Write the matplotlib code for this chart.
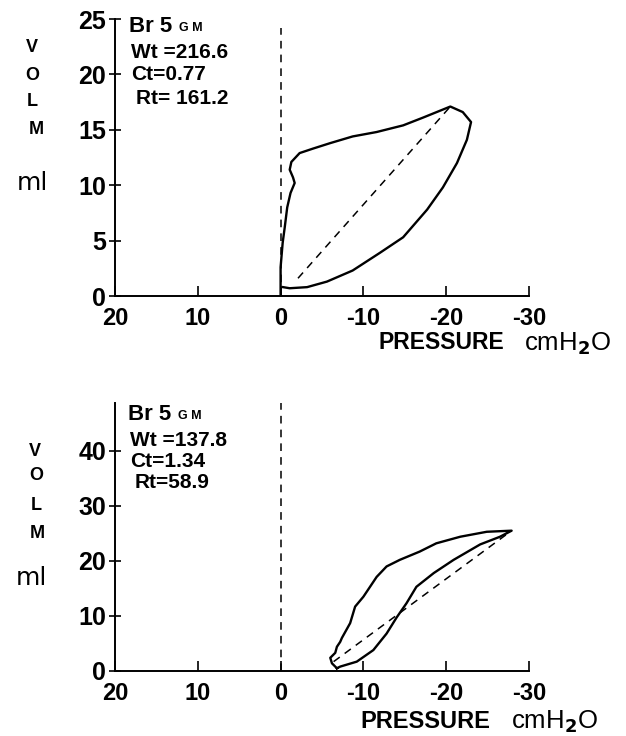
import matplotlib
matplotlib.use('Agg')
import matplotlib.pyplot as plt

plt.rcParams['font.family'] = ['Liberation Sans', 'DejaVu Sans']
plt.rcParams['mathtext.fontset'] = 'dejavusans'

# top panel: pressure-volume loop (Wt=216.6)
top_p = [0, 0, -0.25, -0.5, -0.8, -1.2, -1.7, -1.5, -1.1, -1.3, -2.3, -3.9, -6.0,
         -8.7, -11.6, -14.8, -17.2, -20.5, -22.0, -23.0, -22.5, -21.3, -19.6,
         -17.7, -14.8, -12.0, -8.7, -5.6, -3.2, -1.1, -0.3]
top_v = [0, 2.6, 4.8, 6.2, 8.0, 9.3, 10.2, 10.7, 11.4, 12.1, 12.9, 13.3, 13.8,
         14.4, 14.8, 15.4, 16.1, 17.1, 16.6, 15.7, 14.1, 12.0, 9.8,
         7.8, 5.3, 3.9, 2.3, 1.3, 0.8, 0.7, 0.8]
top_chord_p = [-2.1, -20.5]
top_chord_v = [1.6, 17.1]

# bottom panel: pressure-volume loop (Wt=137.8)
bot_p = [-6.8, -6.2, -6.0, -6.6, -6.8, -7.2, -7.4, -8.4, -9.0, -10.0, -11.6, -12.8,
         -14.4, -16.8, -18.8, -21.7, -24.9, -27.9, -26.5, -24.1, -20.9, -18.5,
         -16.4, -15.2, -14.0, -12.8, -11.2, -9.2, -7.2, -6.8]
bot_v = [0.5, 1.4, 2.4, 3.3, 4.4, 5.3, 6.0, 8.7, 11.7, 13.5, 17.1, 19.0,
         20.2, 21.7, 23.2, 24.4, 25.3, 25.5, 24.4, 23.0, 20.2, 17.8,
         15.3, 12.3, 9.7, 6.8, 3.8, 1.7, 0.8, 0.5]
bot_chord_p = [-6.4, -27.9]
bot_chord_v = [1.7, 25.5]

x_ticks = [20, 10, 0, -10, -20, -30]
x_labels = ['20', '10', '0', '-10', '-20', '-30']
top_yticks = [0, 5, 10, 15, 20, 25]
bot_yticks = [0, 10, 20, 30, 40]

W, H = 626, 736
fig = plt.figure(figsize=(W / 100, H / 100), dpi=100)


def px(x, y):
    return x / W, 1 - y / H


def setup(ax, yticks, ymax):
    ax.set_xlim(20, -30)
    ax.set_ylim(0, ymax)
    for s in ['top', 'right']:
        ax.spines[s].set_visible(False)
    for s in ['left', 'bottom']:
        ax.spines[s].set_linewidth(1.4)
    ax.set_xticks(x_ticks)
    ax.set_xticklabels(x_labels)
    ax.set_yticks(yticks)
    ax.tick_params(axis='x', direction='in', length=7, width=1.2, pad=8,
                   labelsize=17)
    ax.tick_params(axis='y', direction='inout', length=9, width=1.2, pad=2,
                   labelsize=18)
    for lab in ax.get_xticklabels() + ax.get_yticklabels():
        lab.set_fontweight('bold')
    ax.patch.set_alpha(0)


ax1 = fig.add_axes([115 / W, 1 - 296 / H, 414 / W, 277 / H])
setup(ax1, top_yticks, 25)
ax1.plot(top_p, top_v, color='black', lw=1.7)
ax1.plot(top_chord_p, top_chord_v, color='black', lw=1.1, ls=(0, (5, 4)))
ax1.plot([0, 0], [0, 24.2], color='black', lw=1.1, ls=(0, (5, 4)))

ax2 = fig.add_axes([115 / W, 1 - 671 / H, 414 / W, 268 / H])
setup(ax2, bot_yticks, 48.7)
ax2.plot(bot_p, bot_v, color='black', lw=1.7)
ax2.plot(bot_chord_p, bot_chord_v, color='black', lw=1.1, ls=(0, (5, 4)))
ax2.plot([0, 0], [0, 48.7], color='black', lw=1.1, ls=(0, (5, 4)))


def label_block(x0, ys, values):
    # "Br 5 GM" header then Wt, Ct, Rt
    fig.text(*px(x0, ys[0]), 'Br 5', fontsize=16, fontweight='bold', va='center')
    fig.text(*px(x0 + 50, ys[0] + 1), 'G M', fontsize=9, fontweight='bold', va='center')
    offs = [2, 2, 7]
    for y, s, dx in zip(ys[1:], values, offs):
        fig.text(*px(x0 + dx, y), s, fontsize=15, fontweight='bold', va='center')


label_block(129, [27, 52, 75, 98], ['Wt =216.6', 'Ct=0.77', 'Rt= 161.2'])
label_block(128, [415, 441, 462, 483], ['Wt =137.8', 'Ct=1.34', 'Rt=58.9'])


def vol_label(xs, ys, xml, yml):
    for ch, x, y in zip('VOLM', xs, ys):
        fig.text(*px(x, y), ch, fontsize=13, fontweight='bold', ha='center', va='center')
    fig.text(*px(xml, yml), 'ml', fontsize=18, family='DejaVu Sans',
             ha='center', va='center')


vol_label([32, 32, 32, 36], [47, 75, 102, 130], 32, 183)
vol_label([35, 36, 36, 37], [452, 476, 505, 534], 31, 578)

fig.text(*px(379, 343), 'PRESSURE', fontsize=16.5, fontweight='bold', va='center')
fig.text(*px(524, 344), r'cmH$_{\mathbf{2}}$O', fontsize=18.5, va='center')
fig.text(*px(360, 721), 'PRESSURE', fontsize=17, fontweight='bold', va='center')
fig.text(*px(511, 722), r'cmH$_{\mathbf{2}}$O', fontsize=18.5, va='center')

fig.savefig('out.png', dpi=100)
